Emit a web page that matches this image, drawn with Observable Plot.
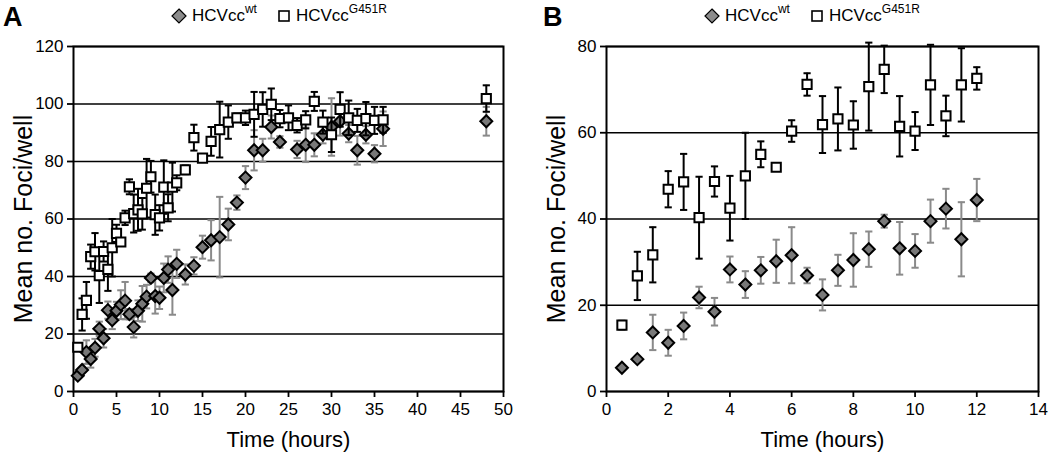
<!DOCTYPE html>
<html><head><meta charset="utf-8">
<script src="https://cdn.jsdelivr.net/npm/d3@7"></script>
<script src="https://cdn.jsdelivr.net/npm/@observablehq/plot@0.6"></script>
<style>
body{margin:0;background:#fff;font-family:"Liberation Sans",Arial,sans-serif;color:#000}
#wrap{position:relative;width:1050px;height:457px;overflow:hidden}
.panel{position:absolute;top:0;width:525px;height:457px}
.lab{position:absolute;top:2px;font-weight:bold;font-size:27px;line-height:30px}
.legend{position:absolute;top:5px;height:22px;font-size:17px;display:flex;align-items:center;white-space:nowrap}
.legend svg{margin-right:5px}
.sup{font-size:12px;position:relative;top:-7px}
.gap{display:inline-block;width:20px}
</style></head>
<body>
<div id="wrap">
  <div class="panel" id="pa" style="left:0"></div>
  <div class="panel" id="pb" style="left:525px"></div>
  <div class="lab" style="left:3px">A</div>
  <div class="lab" style="left:543px">B</div>
  <div class="legend" style="left:171px"><svg width="16" height="16"><path d="M8,1L15,8L8,15L1,8Z" fill="#8c8c8c" stroke="#000" stroke-width="1.2"/></svg>HCVcc<span class="sup">wt</span><span class="gap"></span><svg width="14" height="14"><rect x="2" y="2" width="10" height="10" fill="#fff" stroke="#000" stroke-width="1.6"/></svg>HCVcc<span class="sup">G451R</span></div>
  <div class="legend" style="left:704px"><svg width="16" height="16"><path d="M8,1L15,8L8,15L1,8Z" fill="#8c8c8c" stroke="#000" stroke-width="1.2"/></svg>HCVcc<span class="sup">wt</span><span class="gap"></span><svg width="14" height="14"><rect x="2" y="2" width="10" height="10" fill="#fff" stroke="#000" stroke-width="1.6"/></svg>HCVcc<span class="sup">G451R</span></div>
</div>
<script>
// ---- data (hours, mean foci/well, error) ----
const timeEarly = [0.5,1,1.5,2,2.5,3,3.5,4,4.5,5,5.5,6,6.5,7,7.5,8,8.5,9,9.5,10,10.5,11,11.5,12];
const wtEarly    = [5.5,7.5,13.7,11.3,15.2,21.8,18.5,28.3,24.8,28.1,30.2,31.6,26.9,22.4,28.1,30.5,33.0,39.5,33.2,32.6,39.5,42.4,35.3,44.4];
const wtEarlyErr = [0,0,4.1,3,3.1,2.5,3.2,3,3.1,3.1,5,6.5,1.8,3.6,3.6,6.2,4.1,1.5,6.1,3.9,5,4.6,8.6,4.9];
const mutEarly    = [15.4,26.8,31.7,46.9,48.6,40.3,48.7,42.5,50,55,52,60.4,71.2,61.9,63.2,61.8,70.7,74.7,61.5,60.4,71.1,63.9,71.1,72.6];
const mutEarlyErr = [1,5.6,6.4,4.2,6.5,9.5,3.5,7.5,10,3,0,2.5,2.6,6.6,7.3,5.5,10.2,5.5,7,4.4,9.3,4.7,8.5,2.6];

const timeLateWt = [13,14,15,16,17,18,19,20,21,22,23,24,26,27,28,29,30,31,32,33,34,35,36,48];
const wtLate     = [40.7,43.7,50.2,52.6,53.7,58.1,65.7,74.4,83.9,83.9,92,86.8,84.2,85.8,85.8,89.3,92,94,89.7,83.9,89.3,82.7,91.4,94];
const wtLateErr  = [3.5,3,4,7,14,5.5,2.5,4,7,4,4,2,3,6,4,3,10,5,3,5,3,3,6,5];
const timeLateMut = [13,14,15,16,17,18,19,20,21,22,23,24,25,26,27,28,29,30,31,32,33,34,35,36,48];
const mutLate     = [77.1,88.3,81.2,87,91.1,93.7,95.2,95.2,96.4,98.1,99.9,94.9,95.2,92.6,94.5,100.9,93.7,89.3,98.1,95.2,94.3,94.9,94.3,94.5,101.9];
const mutLateErr  = [1.5,4.5,0,5,9.7,5.8,1.5,2.5,7.8,6,5.5,3,4.3,2.5,3,3.3,4,6,6,6,4,5.8,4.7,4.5,4.6];

const xTicksA = [0,5,10,15,20,25,30,35,40,45,50];
const yTicksA = [0,20,40,60,80,100,120];
const xTicksB = [0,2,4,6,8,10,12,14];
const yTicksB = [0,20,40,60,80];
const xLabel = "Time (hours)";
const yLabel = "Mean no. Foci/well";

function rows(t, v, e) { return t.map((x, i) => ({t: x, v: v[i], e: e[i]})); }

const diamond = {draw(c, s){const r=Math.sqrt(s/Math.PI); c.moveTo(0,-r); c.lineTo(r,0); c.lineTo(0,r); c.lineTo(-r,0); c.closePath();}};
const square = {draw(c, s){const r=Math.sqrt(s/Math.PI); c.moveTo(-r,-r); c.lineTo(r,-r); c.lineTo(r,r); c.lineTo(-r,r); c.closePath();}};
const cap = {draw(c, s){const r=Math.sqrt(s/Math.PI); c.moveTo(-r,0); c.lineTo(r,0);}};

function errMarks(data, color) {
  const d = data.filter(r => r.e > 0);
  return [
    Plot.ruleX(d, {x: "t", y1: r => r.v - r.e, y2: r => r.v + r.e, stroke: color, strokeWidth: 2}),
    Plot.dot(d, {x: "t", y: r => r.v + r.e, symbol: cap, r: 3.6, fill: "none", stroke: color, strokeWidth: 2}),
    Plot.dot(d, {x: "t", y: r => r.v - r.e, symbol: cap, r: 3.6, fill: "none", stroke: color, strokeWidth: 2})
  ];
}

function panel(wt, mut, xDomain, xTicks, yDomain, yTicks, ml, mr) {
  return Plot.plot({
    width: 525, height: 457, marginTop: 46, marginBottom: 66, marginLeft: ml, marginRight: mr,
    style: {fontFamily: "'Liberation Sans', Arial, sans-serif", color: "#000", background: "transparent"},
    x: {domain: xDomain},
    y: {domain: yDomain},
    marks: [
      Plot.ruleY(yTicks, {stroke: "#000", strokeWidth: 1.7}),
      Plot.frame({stroke: "#000", strokeWidth: 2}),
      Plot.axisX(xTicks, {tickSize: 6, tickPadding: 5, strokeWidth: 1.8, fontSize: 17, label: null}),
      Plot.axisY(yTicks, {tickSize: 6, tickPadding: 4, strokeWidth: 1.8, fontSize: 17, label: null}),
      ...errMarks(wt, "#8a8a8a"),
      Plot.dot(wt, {x: "t", y: "v", symbol: diamond, r: 6, fill: "#787878", stroke: "#000", strokeWidth: 2}),
      ...errMarks(mut, "#000"),
      Plot.dot(mut, {x: "t", y: "v", symbol: square, r: 4.6, fill: "#fff", stroke: "#000", strokeWidth: 2}),
      Plot.text([xLabel], {frameAnchor: "bottom", dy: 48, fontSize: 22, textAnchor: "middle", lineAnchor: "middle", text: d => d}),
      Plot.text([yLabel], {frameAnchor: "left", dx: -50, rotate: -90, fontSize: 25, textAnchor: "middle", lineAnchor: "middle", text: d => d})
    ]
  });
}

const wtEarlyRows = rows(timeEarly, wtEarly, wtEarlyErr);
const mutEarlyRows = rows(timeEarly, mutEarly, mutEarlyErr);
const wtAll = wtEarlyRows.concat(rows(timeLateWt, wtLate, wtLateErr));
const mutAll = mutEarlyRows.concat(rows(timeLateMut, mutLate, mutLateErr));

document.getElementById("pa").append(panel(wtAll, mutAll, [0, 50], xTicksA, [0, 120], yTicksA, 73, 22));
document.getElementById("pb").append(panel(wtEarlyRows, mutEarlyRows, [0, 14], xTicksB, [0, 80], yTicksB, 81, 12));
</script>
</body></html>
